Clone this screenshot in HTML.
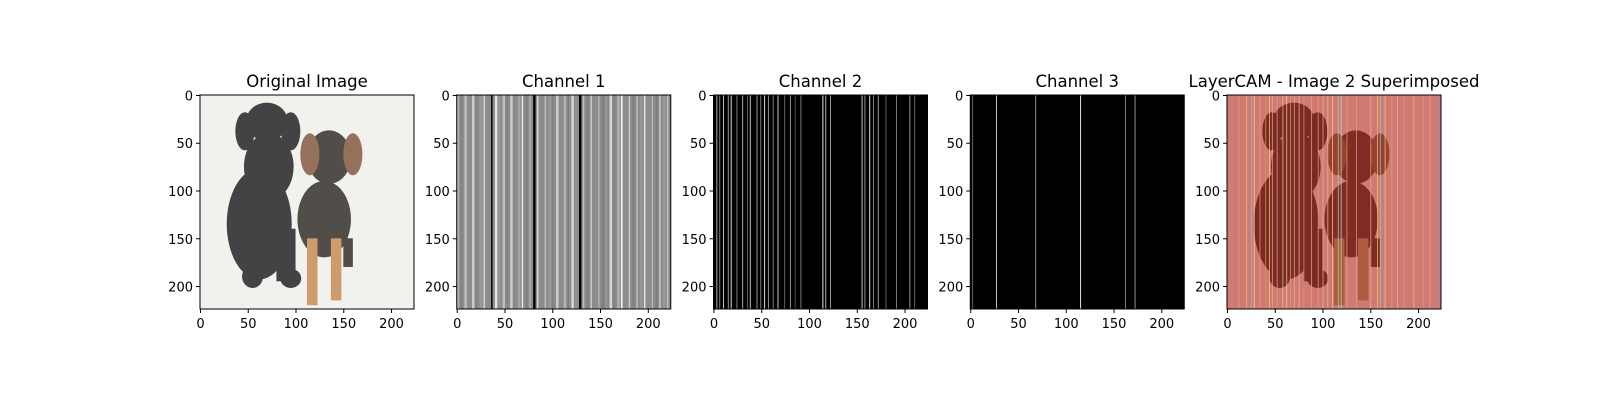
<!DOCTYPE html>
<html><head><meta charset="utf-8">
<style>
html,body{margin:0;padding:0;width:1600px;height:400px;overflow:hidden;background:#fff;}
svg{display:block;}
svg text{font-family:"DejaVu Sans","Liberation Sans",sans-serif;}
</style></head>
<body>
<svg id="fig" width="1600" height="400" xmlns="http://www.w3.org/2000/svg">
<rect width="1600" height="400" fill="#fff"/>
</svg>
<script>
// Channel stripe data (data column index 0..224, intensity 0..1)
const ch1Cols = [0,4,8,12,16,20,24,28,32,36,40,44,48,52,56,60,64,68,72,76,80,84,88,92,96,100,104,108,112,116,120,124,128,132,136,140,144,148,152,156,160,164,168,172,176,180,184,188,192,196,200,204,208,212,216,220];
const ch1Vals = [0.7,0.5,0.75,0.55,0.8,0.5,0.6,0.85,0.55,0.0,0.9,0.6,0.75,0.5,0.8,0.55,0.65,0.9,0.5,0.7,0.0,0.85,0.55,0.75,0.6,0.5,0.8,0.55,0.7,0.5,0.85,0.6,0.0,0.75,0.5,0.8,0.55,0.7,0.5,0.6,0.85,0.5,0.7,1.0,0.55,0.8,0.5,0.75,0.6,0.9,0.55,0.7,0.5,0.8,0.6,0.75];
const ch2Lines = [3,6,10,15,18,24,30,35,38,45,49,53,57,62,67,74,80,85,91,114,117,122,155,158,163,167,172,180,191,205,210];
const ch2Vals  = [0.7,0.5,0.8,0.6,0.9,0.5,0.7,0.4,0.8,0.6,0.5,0.9,0.6,0.5,0.8,0.4,0.6,0.3,0.5,0.95,0.7,0.6,0.8,0.6,0.9,0.5,0.6,0.4,0.5,0.6,0.4];
const ch3Lines = [2,27,68,115,162,172];
const ch3Vals  = [0.4,0.8,0.6,0.95,0.5,0.6];
const camLines = [12,20,25,28,34,40,44,47,52,58,62,66,70,75,80,88,95,100,105,110,116,119,125,135,150,157,160,165,172,178,185,195,205,212,220];
const camColors= ["#e8a070","#f0c080","#80c0f0","#f0e090","#f0a070","#e09060","#f0d080","#f0b070","#e8a090","#f0c090","#e0e090","#f09070","#e8b080","#f0c080","#e09080","#f0a080","#e8a070","#f0b090","#e0c0a0","#f0d090","#90e0b0","#b0e0c0","#f0a070","#e0a080","#f0b090","#f0c070","#80d0e0","#f0d080","#e8a070","#f0b080","#e0a090","#f0c090","#f09070","#f0b080","#80a0e0"];
const ticks = [0,50,100,150,200];
const panelX = [200,456.75,713.5,970.25,1227];
const titles = ["Original Image","Channel 1","Channel 2","Channel 3","LayerCAM - Image 2 Superimposed"];
const AX_Y=95, AX_S=214, N=224;
const NS="http://www.w3.org/2000/svg";
const fig=document.getElementById('fig');
function el(tag,attrs,parent){const e=document.createElementNS(NS,tag);for(const k in attrs)e.setAttribute(k,attrs[k]);(parent||fig).appendChild(e);return e;}
function sx(v){return v*AX_S/N;}
function gray(v){const g=Math.round(v*255);return `rgb(${g},${g},${g})`;}

panelX.forEach((px,i)=>{
  const g=el('g',{});
  
  
  const inner=el('svg',{x:px,y:AX_Y,width:AX_S,height:AX_S,viewBox:'0 0 224 224',preserveAspectRatio:'none'},g);
  
  
  if(i===0||i===4){
    const bg = i===0?'#f0f0ec':'#cf7a72';
    el('rect',{x:0,y:0,width:224,height:224,fill:bg},inner);
    const dark = i===0?'#2e2e30':'#7a2a24';
    const brown= i===0?'#8a6048':'#9a4030';
    const tan  = i===0?'#c8905c':'#b05a40';
    const mid  = i===0?'#3e3a36':'#802c24';
    // black dog
    el('ellipse',{cx:62,cy:135,rx:34,ry:58,fill:dark},inner);
    el('ellipse',{cx:72,cy:75,rx:26,ry:35,fill:dark},inner);
    el('ellipse',{cx:70,cy:28,rx:22,ry:20,fill:dark},inner);
    el('ellipse',{cx:47,cy:38,rx:10,ry:20,fill:dark},inner);
    el('ellipse',{cx:95,cy:38,rx:10,ry:20,fill:dark},inner);
    el('ellipse',{cx:55,cy:190,rx:11,ry:12,fill:dark},inner);
    el('ellipse',{cx:95,cy:192,rx:11,ry:10,fill:dark},inner);
    el('rect',{x:80,y:140,width:20,height:55,fill:dark},inner);
    // brown dog
    el('ellipse',{cx:130,cy:130,rx:28,ry:40,fill:mid},inner);
    el('ellipse',{cx:135,cy:65,rx:23,ry:28,fill:mid},inner);
    el('ellipse',{cx:115,cy:62,rx:10,ry:22,fill:brown},inner);
    el('ellipse',{cx:160,cy:62,rx:10,ry:22,fill:brown},inner);
    el('rect',{x:112,y:150,width:11,height:70,fill:tan},inner);
    el('rect',{x:137,y:150,width:11,height:65,fill:tan},inner);
    el('rect',{x:150,y:150,width:10,height:30,fill:mid},inner);
    if(i===0){el('rect',{x:0,y:0,width:224,height:224,fill:'#fff',opacity:0.1},inner);}
    else{
      camLines.forEach((c,k)=>{
        const r=el('rect',{x:c,y:0,width:1,height:224,fill:camColors[k],opacity:0.75},inner);
        
        
      });
    }
  } else if(i===1){
    el('rect',{x:0,y:0,width:224,height:224,fill:gray(0.55)},inner);
    ch1Cols.forEach((c,k)=>{
      const r=el('rect',{x:c,y:0,width:(k%2?1.5:2.5),height:224,fill:gray(ch1Vals[k])},inner);
      
      
    });
  } else {
    el('rect',{x:0,y:0,width:224,height:224,fill:'#000'},inner);
    const L=i===2?ch2Lines:ch3Lines, V=i===2?ch2Vals:ch3Vals;
    L.forEach((c,k)=>{
      const r=el('rect',{x:c,y:0,width:1,height:224,fill:gray(V[k])},inner);
      
      
    });
  }
  el('rect',{x:px,y:AX_Y,width:AX_S,height:AX_S,fill:'none',stroke:'#000','stroke-width':1},g);
  const t=el('text',{x:px+AX_S/2,y:AX_Y-8,'text-anchor':'middle','font-size':16.5,fill:'#000'},g);
  t.textContent=titles[i];
  
  
  ticks.forEach(v=>{
    const x=px+sx(v+0.5), y=AX_Y+sx(v+0.5);
    el('line',{x1:x,y1:AX_Y+AX_S,x2:x,y2:AX_Y+AX_S+4,stroke:'#000'},g);
    const tx=el('text',{x:x,y:AX_Y+AX_S+19,'text-anchor':'middle','font-size':13,fill:'#000'},g);
    tx.textContent=v;
    
    
    el('line',{x1:px-4,y1:y,x2:px,y2:y,stroke:'#000'},g);
    const ty=el('text',{x:px-7,y:y+5,'text-anchor':'end','font-size':13,fill:'#000'},g);
    ty.textContent=v;
    
    
  });
});
</script>
</body></html>
